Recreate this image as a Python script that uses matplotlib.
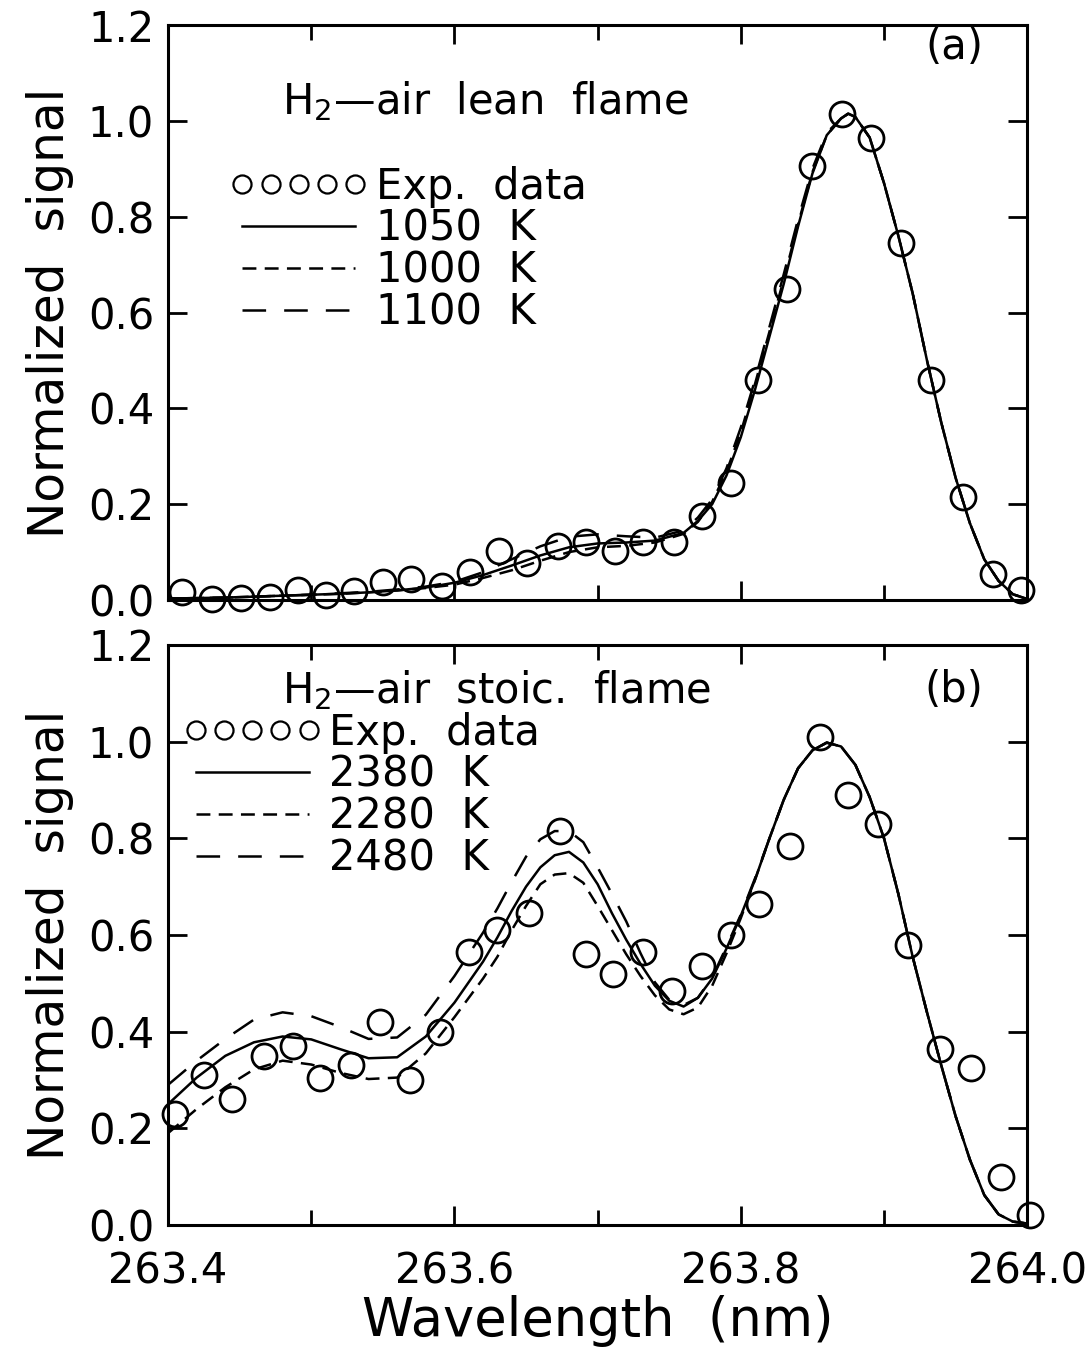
import matplotlib
matplotlib.use("Agg")
import matplotlib.pyplot as plt
from matplotlib.lines import Line2D
from matplotlib.ticker import MultipleLocator

plt.rcParams['font.family'] = ['DejaVu Sans']
plt.rcParams['lines.scale_dashes'] = False

# ---- panel (a): H2-air lean flame ----
exp_wl_a = [263.410, 263.431, 263.451, 263.471, 263.491, 263.510, 263.530, 263.550,
            263.570, 263.591, 263.611, 263.631, 263.651, 263.672, 263.692, 263.712,
            263.732, 263.753, 263.773, 263.793, 263.812, 263.832, 263.850, 263.871,
            263.891, 263.912, 263.933, 263.955, 263.976, 263.996]
exp_sig_a = [0.017, 0.003, 0.005, 0.007, 0.021, 0.010, 0.019, 0.037,
             0.043, 0.029, 0.059, 0.103, 0.078, 0.112, 0.122, 0.103,
             0.122, 0.120, 0.175, 0.245, 0.460, 0.650, 0.905, 1.015,
             0.965, 0.745, 0.460, 0.215, 0.055, 0.020]

fit_wl_a = [263.40, 263.42, 263.44, 263.46, 263.48, 263.50, 263.52, 263.54, 263.56,
            263.58, 263.60, 263.62, 263.64, 263.66, 263.68, 263.70, 263.72, 263.74,
            263.76, 263.77, 263.78, 263.79, 263.80, 263.81, 263.82, 263.83, 263.84,
            263.85, 263.86, 263.87, 263.875, 263.88, 263.89, 263.90, 263.91, 263.92,
            263.93, 263.94, 263.95, 263.96, 263.97, 263.98, 263.99, 264.00]
fit_1050 = [0.003, 0.004, 0.005, 0.007, 0.009, 0.011, 0.013, 0.016, 0.020,
            0.026, 0.036, 0.052, 0.072, 0.093, 0.110, 0.118, 0.120, 0.124,
            0.140, 0.165, 0.200, 0.260, 0.340, 0.440, 0.550, 0.660, 0.780,
            0.890, 0.970, 1.005, 1.015, 1.008, 0.965, 0.870, 0.760, 0.640,
            0.500, 0.370, 0.255, 0.160, 0.085, 0.040, 0.012, 0.002]
fit_1000 = [0.003, 0.004, 0.005, 0.007, 0.009, 0.011, 0.013, 0.016, 0.020,
            0.025, 0.032, 0.046, 0.062, 0.082, 0.100, 0.110, 0.113, 0.120,
            0.138, 0.163, 0.205, 0.268, 0.350, 0.452, 0.560, 0.670, 0.785,
            0.893, 0.970, 1.005, 1.015, 1.008, 0.965, 0.870, 0.760, 0.640,
            0.500, 0.370, 0.255, 0.160, 0.085, 0.040, 0.012, 0.002]
fit_1100 = [0.003, 0.004, 0.005, 0.007, 0.009, 0.011, 0.014, 0.017, 0.022,
            0.028, 0.038, 0.058, 0.085, 0.112, 0.132, 0.137, 0.133, 0.130,
            0.145, 0.172, 0.210, 0.275, 0.360, 0.460, 0.570, 0.680, 0.795,
            0.900, 0.975, 1.005, 1.015, 1.008, 0.965, 0.870, 0.760, 0.640,
            0.500, 0.370, 0.255, 0.160, 0.085, 0.040, 0.012, 0.002]

# ---- panel (b): H2-air stoichiometric flame ----
exp_wl_b = [263.405, 263.425, 263.445, 263.467, 263.487, 263.506, 263.528, 263.548,
            263.569, 263.590, 263.610, 263.630, 263.652, 263.674, 263.692, 263.711,
            263.732, 263.752, 263.773, 263.793, 263.813, 263.834, 263.855, 263.875,
            263.896, 263.917, 263.939, 263.961, 263.982, 264.002]
exp_sig_b = [0.230, 0.310, 0.260, 0.350, 0.370, 0.305, 0.330, 0.420,
             0.300, 0.400, 0.565, 0.610, 0.645, 0.815, 0.560, 0.520,
             0.565, 0.485, 0.535, 0.600, 0.665, 0.785, 1.010, 0.890,
             0.830, 0.580, 0.365, 0.325, 0.100, 0.020]

fit_wl_b = [263.40, 263.42, 263.44, 263.46, 263.48, 263.50, 263.52, 263.54, 263.56,
            263.58, 263.60, 263.62, 263.63, 263.64, 263.65, 263.66, 263.67, 263.68,
            263.69, 263.70, 263.71, 263.72, 263.73, 263.74, 263.75, 263.76, 263.77,
            263.78, 263.79, 263.80, 263.81, 263.82, 263.83, 263.84, 263.85, 263.86,
            263.87, 263.88, 263.89, 263.90, 263.91, 263.92, 263.93, 263.94, 263.95,
            263.96, 263.97, 263.98, 263.99, 264.00]
fit_2380 = [0.250, 0.305, 0.350, 0.378, 0.390, 0.384, 0.364, 0.345, 0.347,
            0.390, 0.460, 0.545, 0.595, 0.650, 0.700, 0.740, 0.765, 0.772,
            0.750, 0.705, 0.645, 0.590, 0.540, 0.495, 0.464, 0.452, 0.470,
            0.510, 0.572, 0.640, 0.715, 0.800, 0.880, 0.945, 0.982, 0.998,
            0.990, 0.952, 0.885, 0.800, 0.685, 0.555, 0.440, 0.330, 0.225,
            0.135, 0.062, 0.022, 0.007, 0.003]
fit_2280 = [0.190, 0.240, 0.285, 0.322, 0.340, 0.332, 0.315, 0.302, 0.305,
            0.355, 0.430, 0.510, 0.555, 0.610, 0.660, 0.705, 0.725, 0.728,
            0.708, 0.660, 0.610, 0.560, 0.515, 0.475, 0.446, 0.436, 0.450,
            0.495, 0.562, 0.635, 0.715, 0.800, 0.880, 0.945, 0.982, 0.998,
            0.990, 0.952, 0.885, 0.800, 0.685, 0.555, 0.440, 0.330, 0.225,
            0.135, 0.062, 0.022, 0.007, 0.003]
fit_2480 = [0.290, 0.340, 0.385, 0.425, 0.440, 0.432, 0.410, 0.385, 0.388,
            0.435, 0.515, 0.605, 0.655, 0.710, 0.762, 0.798, 0.815, 0.815,
            0.792, 0.740, 0.685, 0.628, 0.562, 0.502, 0.466, 0.455, 0.470,
            0.512, 0.576, 0.642, 0.718, 0.800, 0.880, 0.945, 0.982, 0.998,
            0.990, 0.952, 0.885, 0.800, 0.685, 0.555, 0.440, 0.330, 0.225,
            0.135, 0.062, 0.022, 0.007, 0.003]

SHORT = (0, (10, 6))
LONG = (0, (17, 13))
FS = 30


def style_axes(ax, show_xlabels):
    ax.set_xlim(263.4, 264.0)
    ax.set_ylim(0.0, 1.2)
    ax.xaxis.set_major_locator(MultipleLocator(0.2))
    ax.xaxis.set_minor_locator(MultipleLocator(0.1))
    ax.yaxis.set_major_locator(MultipleLocator(0.2))
    ax.tick_params(which='both', direction='in', top=True, right=True,
                   width=2, labelsize=FS)
    ax.tick_params(which='major', length=14)
    ax.tick_params(which='minor', length=11)
    ax.tick_params(axis='y', pad=10)
    ax.tick_params(axis='x', which='major', pad=18)
    ax.yaxis.set_major_formatter(plt.FormatStrFormatter('%.1f'))
    ax.xaxis.set_major_formatter(plt.FormatStrFormatter('%.1f'))
    if not show_xlabels:
        ax.tick_params(labelbottom=False)
    for sp in ax.spines.values():
        sp.set_linewidth(2.2)
    ax.set_ylabel('Normalized  signal', fontsize=35, labelpad=10)


def draw_panel(ax, exp_wl, exp_sig, fit_wl, solid, short, long_, labels, title, tag,
               leg_x, leg_y, title_y, tag_y):
    ax.plot(fit_wl, solid, color='black', lw=1.8, ls='-')
    ax.plot(fit_wl, short, color='black', lw=1.8, ls=SHORT)
    ax.plot(fit_wl, long_, color='black', lw=1.8, ls=LONG)
    ax.plot(exp_wl, exp_sig, ls='none', marker='o', ms=18, mfc='none',
            mec='black', mew=2.0, clip_on=False)

    handles = [Line2D([], [], ls='none', marker='o', ms=13, mfc='none', mec='black', mew=1.6),
               Line2D([], [], color='black', lw=1.8, ls='-'),
               Line2D([], [], color='black', lw=1.8, ls=SHORT),
               Line2D([], [], color='black', lw=1.8, ls=LONG)]
    ax.legend(handles, labels, loc='upper left', bbox_to_anchor=(leg_x, leg_y),
              frameon=False, fontsize=FS, numpoints=5, handlelength=3.3,
              handletextpad=0.2, labelspacing=0.0, borderpad=0, borderaxespad=0)
    ax.text(0.133, title_y, title, transform=ax.transAxes, fontsize=FS,
            ha='left', va='center')
    ax.text(0.915, tag_y, tag, transform=ax.transAxes,
            fontsize=FS, ha='center', va='center')


fig = plt.figure(figsize=(10.87, 13.59), dpi=100)
ax_a = fig.add_axes([0.1546, 0.5585, 0.7904, 0.4231])
ax_b = fig.add_axes([0.1546, 0.0986, 0.7904, 0.4268])

style_axes(ax_a, False)
style_axes(ax_b, True)

draw_panel(ax_a, exp_wl_a, exp_sig_a, fit_wl_a, fit_1050, fit_1000, fit_1100,
           ['Exp.  data', '1050  K', '1000  K', '1100  K'],
           'H$_2$—air  lean  flame', '(a)', 0.072, 0.755, 0.868, 0.962)
draw_panel(ax_b, exp_wl_b, exp_sig_b, fit_wl_b, fit_2380, fit_2280, fit_2480,
           ['Exp.  data', '2380  K', '2280  K', '2480  K'],
           'H$_2$—air  stoic.  flame', '(b)', 0.018, 0.885, 0.922, 0.922)

ax_b.set_xlabel('Wavelength  (nm)', fontsize=38, labelpad=2)

fig.savefig('out.png', dpi=100)
